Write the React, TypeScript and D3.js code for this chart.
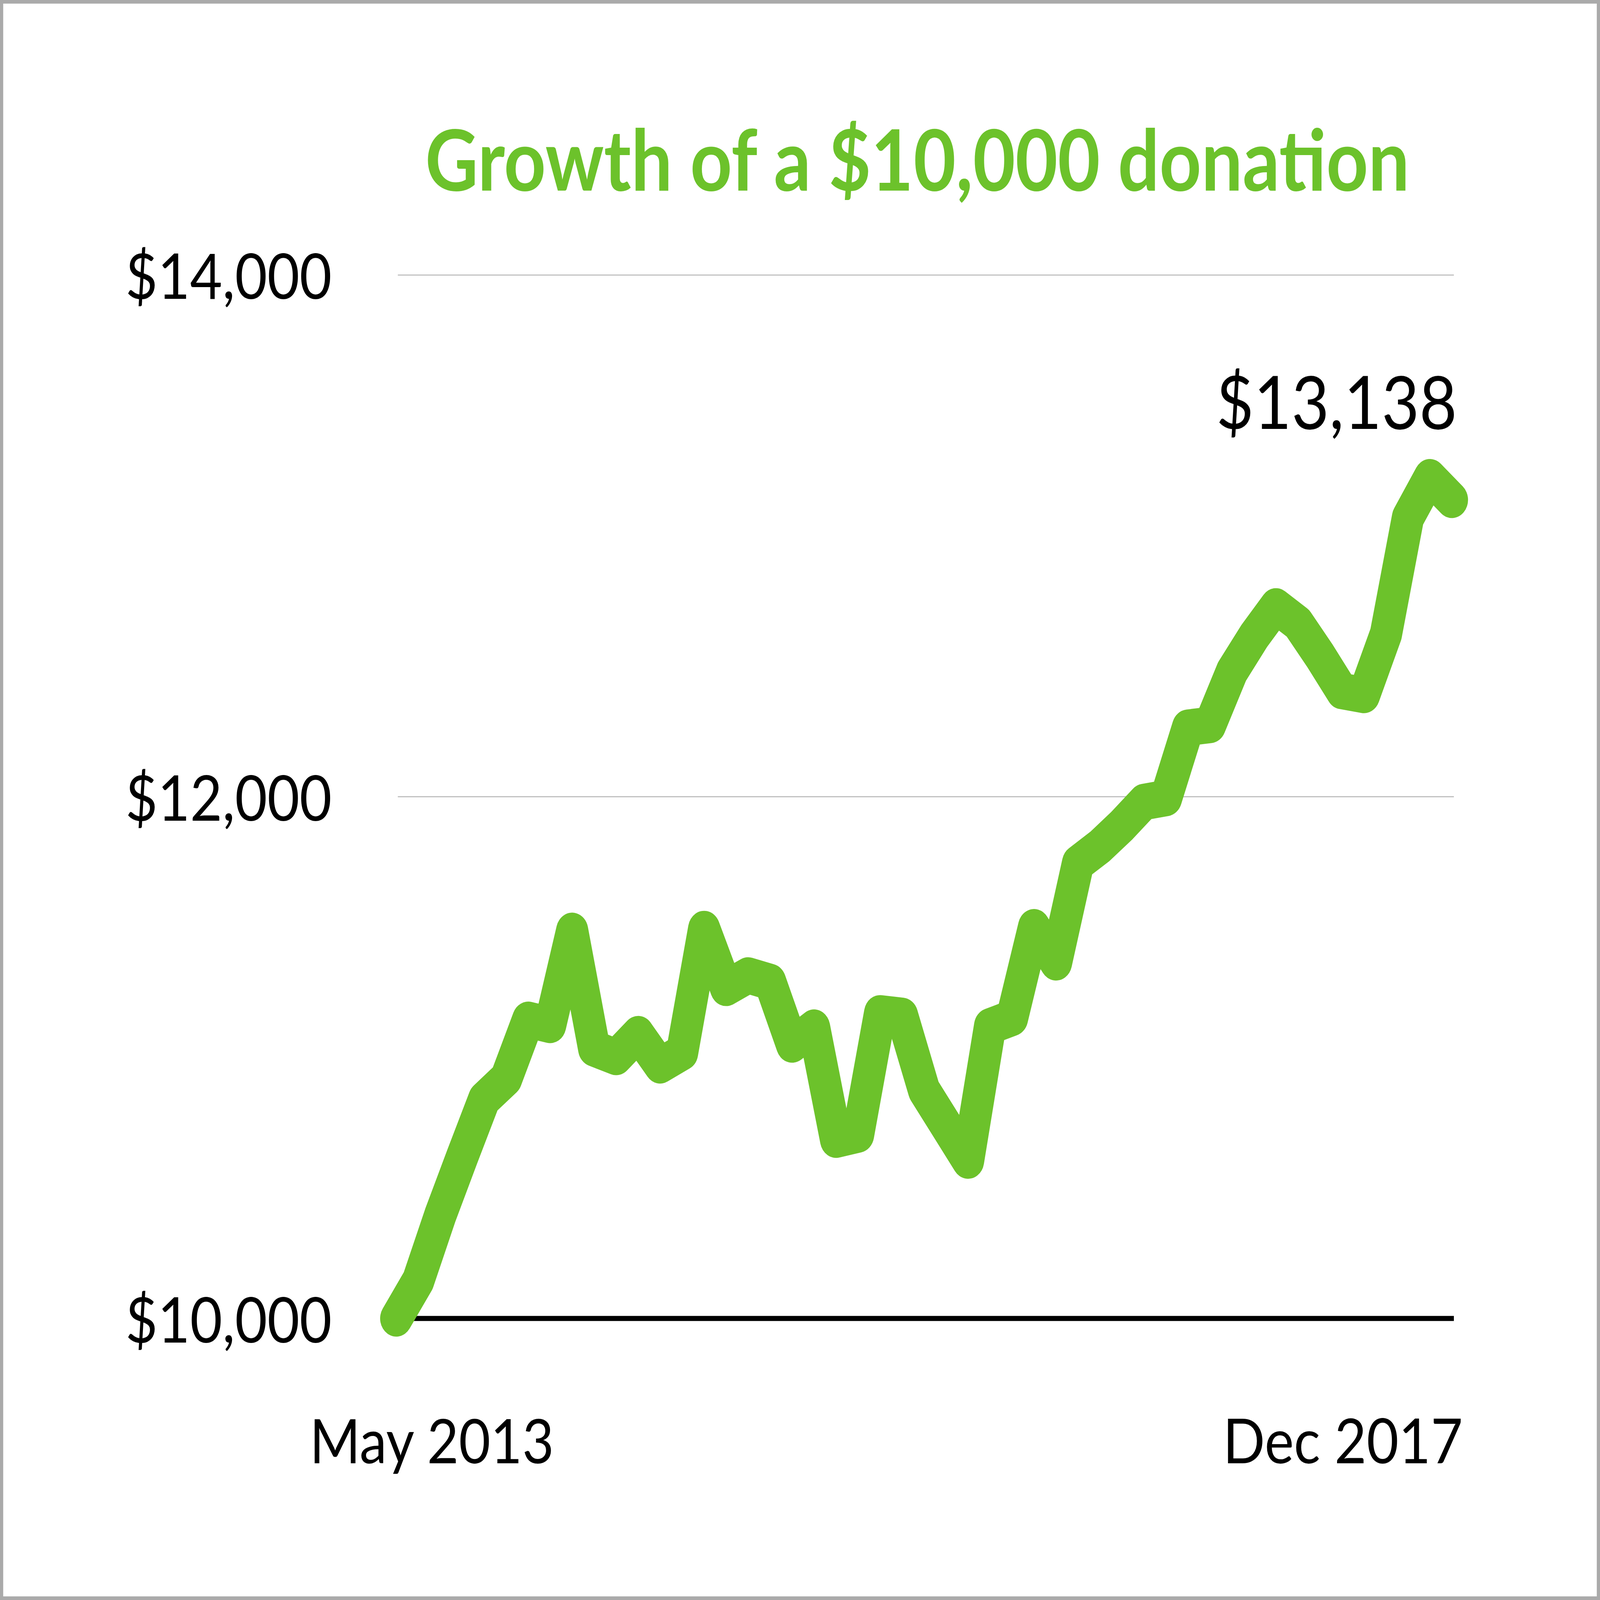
import { useState } from 'react'
import * as d3 from 'd3'

// Growth of a $10,000 donation, May 2013 – Dec 2017
const periodLabels = ['May 2013', 'Dec 2017']
const donationValues = [
  10000, 10145, 10395, 10620, 10840, 10920, 11145, 11125, 11486, 11035,
  11002, 11090, 10970, 11020, 11493, 11267, 11315, 11290, 11050, 11115,
  10685, 10705, 11170, 11160, 10875, 10740, 10605, 11120, 11152, 11500,
  11365, 11745, 11810, 11890, 11980, 11995, 12265, 12275, 12480, 12615,
  12730, 12665, 12540, 12405, 12390, 12624, 13070, 13225, 13138,
]
const yTicks = [10000, 12000, 14000]
const endValueLabel = '$13,138'
const title = 'Growth of a $10,000 donation'

// design size of the chart; it is stretched to whatever viewport the browser really gives
const WIDTH = 4971
const HEIGHT = 4404
const GREEN = '#6cc22b'
const FONT = 'Lato, "Open Sans", sans-serif'

export default function App() {
  const [view] = useState(() => ({
    w: window.innerWidth || WIDTH,
    h: window.innerHeight || HEIGHT,
  }))

  const xScale = d3.scaleLinear()
    .domain([0, donationValues.length - 1])
    .range([1231, 4511])

  const yScale = d3.scaleLinear()
    .domain([10000, 14000])
    .range([3629, 757])

  const line = d3.line<number>()
    .x((_, i) => xScale(i))
    .y(d => yScale(d))

  const fmt = d3.format('$,')
  const gridX1 = 1236
  const gridX2 = 4517

  const lastIdx = donationValues.length - 1

  return (
    <svg
      width={view.w}
      height={view.h}
      viewBox={`0 0 ${WIDTH} ${HEIGHT}`}
      preserveAspectRatio="none"
      style={{ position: 'absolute', left: 0, top: 0, background: '#fff', display: 'block' }}
      fontFamily={FONT}
    >
      <rect x={5} y={5} width={WIDTH - 10} height={HEIGHT - 10} fill="#fff" stroke="#aaaaaa" strokeWidth={10} />

      <text
        x={2850}
        y={525}
        textAnchor="middle"
        fill={GREEN}
        fontSize={232}
        fontWeight="bold"
        textLength={3058}
        lengthAdjust="spacingAndGlyphs"
      >
        {title}
      </text>

      {/* grid lines and y labels */}
      {yTicks.map(t => (
        <g key={t}>
          <line
            x1={gridX1}
            x2={gridX2}
            y1={yScale(t)}
            y2={yScale(t)}
            stroke={t === 10000 ? '#000' : '#bbbbbb'}
            strokeWidth={t === 10000 ? 14 : 3}
          />
          <text x={1031} y={yScale(t) + 66} textAnchor="end" fontSize={173} fill="#000">
            {fmt(t)}
          </text>
        </g>
      ))}

      <path
        d={line(donationValues) || ''}
        fill="none"
        stroke={GREEN}
        strokeWidth={100}
        strokeLinejoin="round"
        strokeLinecap="round"
      />

      <text
        x={xScale(lastIdx) + 16}
        y={yScale(donationValues[lastIdx]) - 195}
        textAnchor="end"
        fontSize={202}
        fill="#000"
      >
        {endValueLabel}
      </text>

      <text x={962} y={4028} textAnchor="start" fontSize={170} fill="#000">
        {periodLabels[0]}
      </text>
      <text x={4545} y={4028} textAnchor="end" fontSize={172} fill="#000">
        {periodLabels[1]}
      </text>
    </svg>
  )
}
